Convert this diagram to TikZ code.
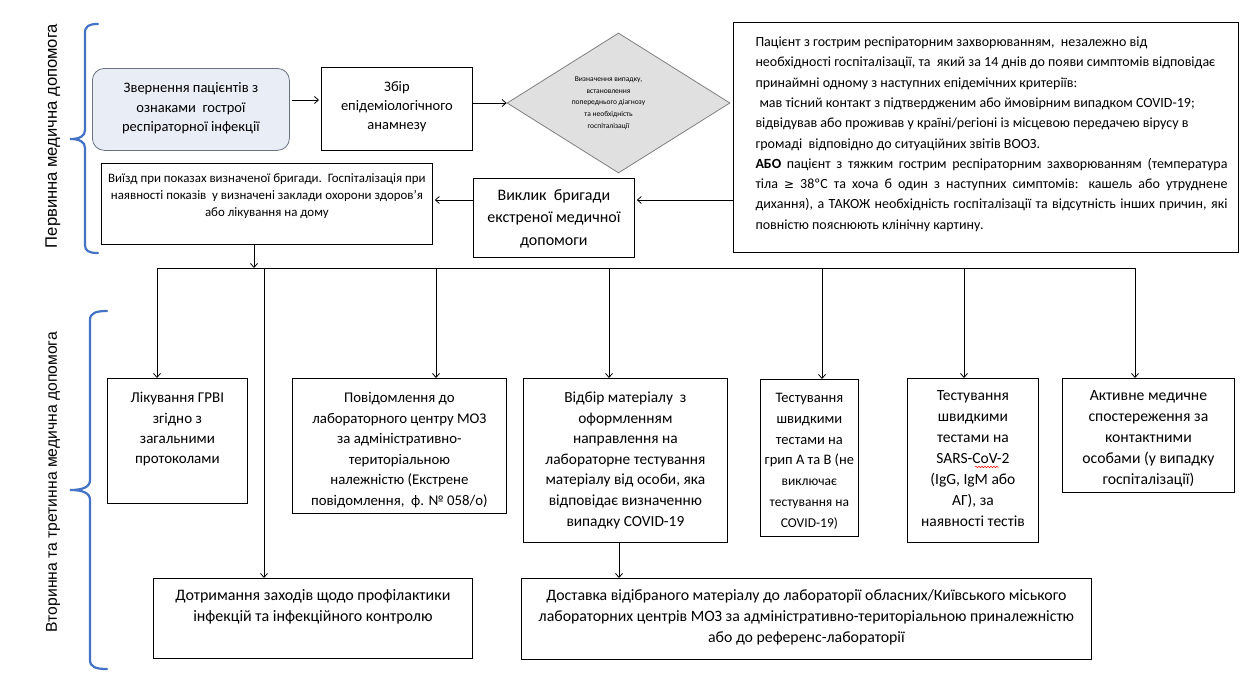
\documentclass[tikz,border=0pt]{standalone}
\usepackage{fontspec}
\setmainfont{Carlito}
\newfontfamily\labfont{Liberation Sans}
\newfontfamily\symfont{DejaVu Sans}
\usetikzlibrary{arrows.meta,shapes.geometric,decorations.pathmorphing}
\definecolor{braceblue}{RGB}{68,114,196}
\definecolor{roundfill}{RGB}{232,237,246}
\definecolor{rounddraw}{RGB}{105,115,130}
\definecolor{diafill}{RGB}{224,224,224}
\definecolor{diadraw}{RGB}{128,128,128}
\newcommand\tb[4]{\parbox[c][#2][t]{#1}{\centering\vspace*{\dimexpr#3-\ht\strutbox\relax}\strut#4\par}}
\begin{document}
\begin{tikzpicture}[x=1pt,y=-1pt,
  box/.style={draw=black, line width=0.8pt, inner sep=0pt, anchor=north west, fill=white},
  arr/.style={line width=0.8pt, -{Straight Barb[length=4pt,width=7pt]}},
  ln/.style={line width=0.8pt},
  brace/.style={draw=braceblue, line width=2.2pt, line cap=round},
  txt/.style={font=\fontsize{14.5}{20.5}\selectfont}
]
\useasboundingbox[fill=white] (0,0) rectangle (1250,683);

% braces and side labels
\draw[brace] (98,24) .. controls (89,24) and (85,26) .. (85,33) -- (85,130)
  .. controls (85,136) and (80,139) .. (70,139) .. controls (80,139) and (85,142) .. (85,148)
  -- (85,245) .. controls (85,251) and (89,253) .. (98,253);
\draw[brace] (107,311) .. controls (96,311) and (90,313) .. (90,320) -- (90,480)
  .. controls (90,487) and (83,490) .. (70,490) .. controls (83,490) and (90,493) .. (90,500)
  -- (90,660) .. controls (90,667) and (96,669) .. (107,669);
\node[rotate=90, font=\labfont\fontsize{16.6}{20}\selectfont] (lab1) at (53,136) {Первинна медична допомога};
\node[rotate=90, font=\labfont\fontsize{15.7}{20}\selectfont] (lab2) at (53,482) {Вторинна та третинна медична допомога};

% top row
\node[box, rounded corners=12pt, draw=rounddraw, fill=roundfill, font=\fontsize{14.5}{19.5}\selectfont] (b1) at (92,68)
  {\tb{197pt}{82pt}{24.5pt}{Звернення пацієнтів з\\ознаками\ \ гострої\\респіраторної інфекції}};
\node[box, font=\fontsize{14.5}{19}\selectfont] (b2) at (321,67)
  {\tb{151pt}{83pt}{24.5pt}{Збір\\епідеміологічного\\анамнезу}};
\node[diamond, aspect=1.6, draw=diadraw, fill=diafill, line width=0.8pt, minimum width=223pt, minimum height=140pt, inner sep=0pt] (dia) at (618.5,103)
  {\parbox{100pt}{\centering\fontsize{7.5}{11.7}\selectfont Визначення випадку,\\встановлення\\попереднього діагнозу\\та необхідність\\госпіталізації}\hspace*{20pt}};
\node[box, line width=1pt] (rt) at (733,22)
  {\parbox[c][230pt][t]{505pt}{\fontsize{14}{20.3}\selectfont\vspace*{\dimexpr24pt-\ht\strutbox\relax}\leftskip=22pt \rightskip=11pt \parindent=0pt \strut Пацієнт з гострим респіраторним захворюванням,\ \ незалежно від\\
необхідності госпіталізації, та\ \ який за 14 днів до появи симптомів відповідає\\
принаймні одному з наступних епідемічних критеріїв:\\
\hspace*{4pt}мав тісний контакт з підтвердженим або ймовірним випадком COVID-19;\\
відвідував або проживав у країні/регіоні із місцевою передачею вірусу в\\
громаді\ \ відповідно до ситуаційних звітів ВООЗ.\\
\textbf{АБО} пацієнт з тяжким гострим респіраторним захворюванням (температура\linebreak
тіла {\symfont\fontsize{12}{20.3}\selectfont ≥} 38ºС та хоча б один з наступних симптомів: кашель або утруднене\linebreak
дихання), а ТАКОЖ необхідність госпіталізації та відсутність інших причин, які\linebreak
повністю пояснюють клінічну картину.\par}};

% second row
\node[box, font=\fontsize{16}{22.5}\selectfont] (vyk) at (473,178)
  {\tb{161pt}{79pt}{22pt}{Виклик\ \ бригади\\екстреної медичної\\допомоги}};
\node[box, font=\fontsize{12.9}{17}\selectfont] (viz) at (101,162.5)
  {\tb{331pt}{81pt}{19.5pt}{\mbox{Виїзд при показах визначеної бригади.\ \ Госпіталізація при}\\\mbox{наявності показів\ \ у визначені заклади охорони здоров’я}\\\mbox{або лікування на дому}}};

% third row
\node[box, font=\fontsize{15}{20.3}\selectfont] (lik) at (107,378)
  {\tb{140pt}{125pt}{24.5pt}{Лікування ГРВІ\\згідно з\\загальними\\протоколами}};
\node[box, font=\fontsize{14.8}{20.6}\selectfont] (pov) at (292,378)
  {\tb{214pt}{135pt}{24pt}{Повідомлення до\\лабораторного центру МОЗ\\за адміністративно-\\територіальною\\належністю (Екстрене\\повідомлення,\ \ ф. № 058/о)}};
\node[box, font=\fontsize{15.4}{20.6}\selectfont] (vidb) at (523,378)
  {\tb{204pt}{164pt}{24pt}{Відбір матеріалу\ \ з\\оформленням\\направлення на\\лабораторне тестування\\матеріалу від особи, яка\\відповідає визначенню\\випадку COVID-19}};
\node[box, font=\fontsize{14.5}{20.8}\selectfont] (grip) at (760,379)
  {\tb{98pt}{157pt}{23pt}{Тестування\\швидкими\\тестами на\\грип А та В (не\\{\fontsize{13.5}{20.8}\selectfont виключає\\тестування на\\COVID-19)}}};
\node[box, font=\fontsize{15.5}{21}\selectfont] (sars) at (907,378)
  {\tb{131pt}{164pt}{22pt}{Тестування\\швидкими\\тестами на\\SARS-CoV-2\\(IgG, IgM або\\АГ), за\\наявності тестів}};
\node[box, font=\fontsize{15.7}{21}\selectfont] (akt) at (1062,378)
  {\tb{172pt}{114pt}{22pt}{Активне медичне\\спостереження за\\контактними\\особами (у випадку\\госпіталізації)}};

% bottom row
\node[box, font=\fontsize{16}{21}\selectfont] (dotr) at (153,578)
  {\tb{319pt}{80pt}{22pt}{Дотримання заходів щодо профілактики\\інфекцій та інфекційного контролю}};
\node[box, font=\fontsize{15.8}{21}\selectfont] (dost) at (521,578)
  {\tb{570pt}{81pt}{22pt}{Доставка відібраного матеріалу до лабораторії обласних/Київського міського\\лабораторних центрів МОЗ за адміністративно-територіальною приналежністю\\або до референс-лабораторії}};

% spell-check squiggle
\draw[red, line width=0.5pt, decorate, decoration={snake, amplitude=0.7pt, segment length=3pt}] (975,467) -- (999,467);

% helper coordinates
\coordinate (h1) at (0,100);
\coordinate (h2) at (0,200);
\coordinate (j0) at (254,268);
\coordinate (d1) at (157,268);
\coordinate (d2) at (264,268);
\coordinate (d3) at (436,268);
\coordinate (d4) at (609,268);
\coordinate (d5) at (822,268);
\coordinate (d6) at (964,268);
\coordinate (d7) at (1135,268);
\coordinate (k1) at (619,0);

% connectors
\draw[arr, shorten <=2pt, shorten >=2pt] (b1.east |- h1) -- (b2.west |- h1);
\draw[arr] (b2.east |- dia) -- (dia.west);
\draw[arr, shorten >=2pt] (rt.west |- h2) -- (vyk.east |- h2);
\draw[arr, shorten >=2pt] (vyk.west |- h2) -- (viz.east |- h2);
\draw[arr] (viz.south -| j0) -- (j0);
\draw[ln] (d1) -- (d7);
\draw[arr] (d1) -- (d1 |- lik.north);
\draw[arr] (d2) -- (d2 |- dotr.north);
\draw[arr] (d3) -- (d3 |- pov.north);
\draw[arr] (d4) -- (d4 |- vidb.north);
\draw[arr] (d5) -- (d5 |- grip.north);
\draw[arr] (d6) -- (d6 |- sars.north);
\draw[arr] (d7) -- (d7 |- akt.north);
\draw[arr] (vidb.south -| k1) -- (dost.north -| k1);
\end{tikzpicture}
\end{document}
